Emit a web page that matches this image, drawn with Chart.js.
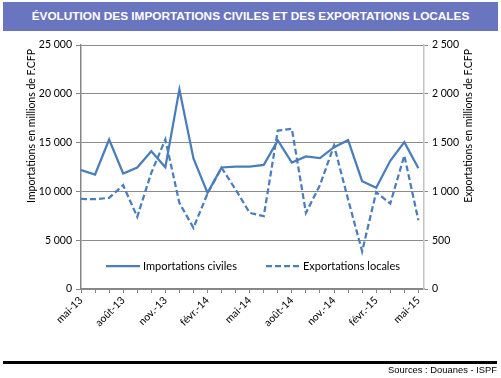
<!DOCTYPE html>
<html>
<head>
<meta charset="utf-8">
<script src="https://cdn.jsdelivr.net/npm/chart.js@4.4.1/dist/chart.umd.min.js"></script>
<style>
  html, body { margin: 0; padding: 0; background: #fff; }
  #wrap { position: relative; width: 501px; height: 378px; overflow: hidden; }
  #c { position: absolute; left: 0; top: 0; }
  #title { position: absolute; left: 3px; top: 2px; width: 495px; height: 29px; background: #6a75c0;
           color: #fff; font: bold 11.8px "Liberation Sans", Arial, sans-serif; line-height: 29px; text-align: center; }
  #rule { position: absolute; left: 3px; top: 361px; width: 494px; height: 3px; background: #000; }
  #src { position: absolute; right: 4px; top: 364px; font: 9.4px "Liberation Sans", Arial, sans-serif; color: #000; }
</style>
</head>
<body>
<div id="wrap">
  <canvas id="c" width="501" height="378"></canvas>
  <div id="title">ÉVOLUTION DES IMPORTATIONS CIVILES ET DES EXPORTATIONS LOCALES</div>
  <div id="rule"></div>
  <div id="src">Sources : Douanes - ISPF</div>
</div>
<script>
// ---- data ----
const months = ['mai-13','juin-13','juil.-13','août-13','sept.-13','oct.-13','nov.-13','déc.-13',
  'janv.-14','févr.-14','mars-14','avr.-14','mai-14','juin-14','juil.-14','août-14','sept.-14',
  'oct.-14','nov.-14','déc.-14','janv.-15','févr.-15','mars-15','avr.-15','mai-15'];
const importations = [12180, 11730, 15320, 11830, 12450, 14120, 12480, 20450, 13370, 9850,
  12450, 12550, 12550, 12720, 15220, 12960, 13580, 13410, 14530, 15250, 11050, 10360, 13130, 15050, 12380];
const exportations = [923, 920, 934, 1064, 739, 1190, 1532, 882, 626, 978,
  1241, 1019, 780, 746, 1623, 1642, 780, 1064, 1471, 917, 386, 992, 875, 1368, 704];
const leftTicks = [0, 5000, 10000, 15000, 20000, 25000];
const rightTicks = [0, 500, 1000, 1500, 2000, 2500];
const seriesNames = ['Importations civiles', 'Exportations locales'];
const axisTitles = ['Importations en millions de F.CFP', 'Exportations en millions de F.CFP'];

const BLUE = '#4A7EBB';
const FONT = 'Lato, "Liberation Sans", sans-serif';
const fmt = v => String(v).replace(/\B(?=(\d{3})+(?!\d))/g, ' ');

const extras = {
  id: 'extras',
  afterDraw(chart) {
    const ctx = chart.ctx, a = chart.chartArea;
    ctx.save();
    ctx.fillStyle = '#000';
    ctx.font = '10.5px ' + FONT;
    ctx.textBaseline = 'middle';
    // axis titles (both read bottom-to-top)
    ctx.save();
    ctx.translate(32, a.top + 4);
    ctx.rotate(-Math.PI / 2);
    ctx.textAlign = 'right';
    ctx.fillText(axisTitles[0], 0, 0);
    ctx.restore();
    ctx.save();
    ctx.translate(469, a.top + 4);
    ctx.rotate(-Math.PI / 2);
    ctx.textAlign = 'right';
    ctx.fillText(axisTitles[1], 0, 0);
    ctx.restore();
    // legend inside plot area
    const ly = a.bottom - 23;
    ctx.font = '11px ' + FONT;
    ctx.textAlign = 'left';
    const items = [{x: a.left + 25, dash: []}, {x: a.left + 185, dash: [6, 3]}];
    items.forEach((it, i) => {
      ctx.strokeStyle = BLUE; ctx.lineWidth = 2.25; ctx.setLineDash(it.dash);
      ctx.beginPath(); ctx.moveTo(it.x, ly); ctx.lineTo(it.x + 34, ly); ctx.stroke();
      ctx.setLineDash([]);
      ctx.fillText(seriesNames[i], it.x + 37, ly);
    });
    ctx.restore();
  }
};

new Chart(document.getElementById('c'), {
  type: 'line',
  data: {
    datasets: [
      { label: seriesNames[0], data: importations.map((v, i) => ({x: i, y: v})), yAxisID: 'y',
        borderColor: BLUE, borderWidth: 2.25, pointRadius: 0, tension: 0, fill: false },
      { label: seriesNames[1], data: exportations.map((v, i) => ({x: i, y: v})), yAxisID: 'y1',
        borderColor: BLUE, borderWidth: 2.25, borderDash: [6, 3], pointRadius: 0, tension: 0, fill: false }
    ]
  },
  options: {
    responsive: false,
    animation: false,
    layout: { padding: { top: 45, left: 0, right: 0, bottom: 0 } },
    plugins: { legend: { display: false }, tooltip: { enabled: false }, title: { display: false } },
    scales: {
      x: {
        type: 'linear', min: 0, max: months.length - 0.6,
        afterBuildTicks: s => { s.ticks = months.map((m, i) => ({value: i})); },
        afterFit: s => { s.height = 89; },
        ticks: { autoSkip: false, includeBounds: false, maxRotation: 45, minRotation: 45, padding: 1,
                 color: '#000', font: { size: 10.5, family: FONT },
                 callback: (v) => (v % 3 === 0 ? months[v] : '') },
        grid: { drawOnChartArea: false, drawTicks: true, tickLength: 4, color: '#868686' },
        border: { color: '#868686', width: 1.5 }
      },
      y: {
        position: 'left', min: 0, max: 25000,
        afterBuildTicks: s => { s.ticks = leftTicks.map(v => ({value: v})); },
        afterFit: s => { s.width = 81; },
        ticks: { color: '#000', font: { size: 10.5, family: FONT }, padding: 4, callback: v => fmt(v) },
        grid: { color: '#8c8c8c', lineWidth: 1, tickLength: 5, tickColor: '#868686' },
        border: { color: '#868686', width: 1.5 }
      },
      y1: {
        position: 'right', min: 0, max: 2500,
        afterBuildTicks: s => { s.ticks = rightTicks.map(v => ({value: v})); },
        afterFit: s => { s.width = 77; },
        ticks: { color: '#000', font: { size: 10.5, family: FONT }, padding: 4, callback: v => fmt(v) },
        grid: { drawOnChartArea: false, tickLength: 4, color: '#868686' },
        border: { color: '#c4c4c4', width: 1.5 }
      }
    }
  },
  plugins: [extras]
});
</script>
</body>
</html>
